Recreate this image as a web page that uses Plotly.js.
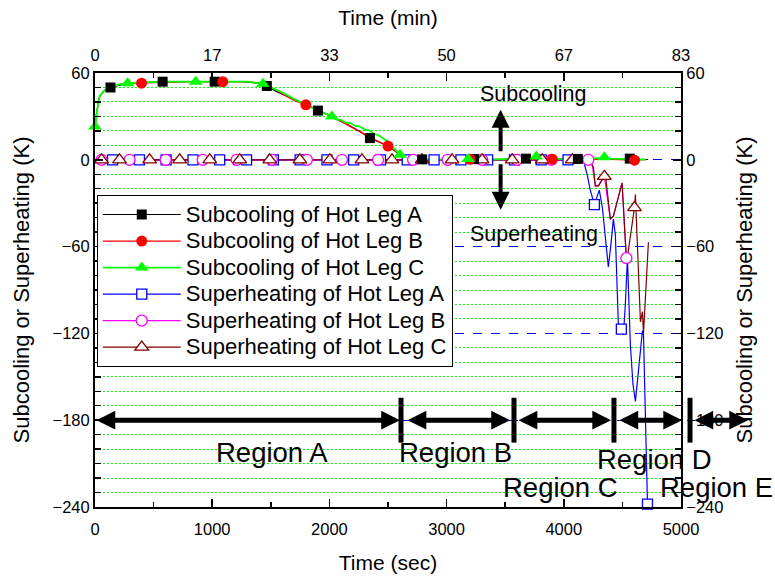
<!DOCTYPE html>
<html><head><meta charset="utf-8">
<script src="https://cdn.plot.ly/plotly-3.0.1.min.js"></script>
<style>html,body{margin:0;padding:0;background:#fff}#chart{width:775px;height:581px}</style>
</head><body><div id="chart"></div>
<script>
const FONT = 'Liberation Sans, Arial, Helvetica, sans-serif';
const T_MAX = 5000;
const Y_MIN = -240, Y_MAX = 60;

// ---- Subcooling of Hot Leg A (line + markers) ----
const subA_t = [0, 15, 40, 80, 132, 200, 300, 450, 577, 800, 1021, 1250, 1400, 1466, 1551, 1662, 1799, 1902, 2021, 2150, 2250, 2346, 2430, 2500, 2560, 2620, 2700, 2791, 3000, 3234, 3450, 3677, 3900, 4120, 4350, 4563, 4650, 4720];
const subA_v = [23, 33, 44, 48, 50, 51.5, 53, 53.5, 54, 54, 54, 54, 53, 51, 47, 43, 38, 34, 30, 24.5, 20, 15, 12, 9.5, 6, 2.5, 0.8, 0.3, 0.2, 0.5, 0.2, 0.8, 0.5, 0.6, 0.3, 0.8, 0.3, 0.2];
const subA_mt = [132, 577, 1021, 1466, 1902, 2346, 2791, 3234, 3677, 4120, 4563];
const subA_mv = [50, 54, 54, 51, 34, 15, 0.3, 0.5, 0.8, 0.6, 0.8];

// ---- Subcooling of Hot Leg B ----
const subB_t = [0, 15, 40, 80, 132, 200, 300, 397, 600, 800, 1090, 1300, 1420, 1500, 1600, 1700, 1799, 1900, 2021, 2150, 2250, 2346, 2430, 2500, 2560, 2620, 2700, 2800, 3000, 3201, 3450, 3700, 3902, 4150, 4400, 4603, 4700];
const subB_v = [23, 33, 44, 48, 50, 52, 53, 53, 53.5, 54, 54, 54, 53, 50.5, 45.5, 41, 38, 34, 30, 24.5, 20, 15.5, 12, 9.5, 6, 2.5, 0.8, 0.3, 0.2, 0.3, 0.4, 0.5, 0.4, 0.5, 0.3, -0.3, 0.1];
const subB_mt = [397, 1090, 1799, 2500, 3201, 3902, 4603];
const subB_mv = [53, 54, 38, 9.5, 0.3, 0.4, -0.3];

// ---- Subcooling of Hot Leg C ----
const subC_t = [0, 15, 40, 80, 132, 200, 278, 450, 600, 859, 1100, 1300, 1432, 1520, 1600, 1700, 1799, 1902, 2021, 2060, 2100, 2140, 2180, 2220, 2260, 2300, 2340, 2380, 2420, 2460, 2500, 2540, 2603, 2660, 2720, 2800, 3000, 3184, 3400, 3600, 3700, 3765, 3830, 4000, 4200, 4300, 4346, 4400, 4550, 4700];
const subC_v = [23, 33, 44, 48, 50, 52, 53, 53.5, 54, 54, 54, 54, 52.5, 49.5, 46.5, 42, 38, 34, 30, 27.8, 27.6, 25.6, 25.4, 23.4, 23, 21, 20.4, 18, 17, 14.5, 12.5, 9, 3.5, 1.5, 0.5, 0.3, 0.2, 0.6, 0.3, 0.5, 1.0, 2.2, 1.0, 0.4, 0.6, 1.2, 1.8, 0.8, 0.4, 0.2];
const subC_mt = [0, 278, 859, 1432, 2021, 2603, 3184, 3765, 4346];
const subC_mv = [23, 53, 54, 52.5, 30, 3.5, 0.6, 2.2, 1.8];

// ---- Superheating of Hot Leg A ----
const supA_t = [0, 1000, 2000, 3000, 4000, 4167, 4201, 4226, 4261, 4303, 4329, 4360, 4380, 4400, 4423, 4440, 4466, 4491, 4509, 4525, 4543, 4568, 4590, 4611, 4632, 4654, 4671, 4680, 4714];
const supA_v = [0, 0, 0, 0, 0, 0, -11, -21, -31, -21, -33, -61, -74, -60, -41, -52, -115, -117, -121, -100, -68, -128, -155, -167, -150, -128, -118, -121, -238];
const supA_mt = [150, 379, 607, 836, 1064, 1293, 1522, 1750, 1979, 2207, 2436, 2664, 2893, 3122, 3350, 3579, 3807, 4036, 4261, 4491, 4714];
const supA_mv = [0, 0, 0, 0, 0, 0, 0, 0, 0, 0, 0, 0, 0, 0, 0, 0, 0, 0, -31, -117, -238];

// ---- Superheating of Hot Leg B ----
const supB_t = [0, 1000, 2000, 3000, 4000, 4209, 4240, 4269, 4295, 4346, 4397, 4423, 4497, 4534];
const supB_v = [0, 0, 0, 0, 0, 0, -2, -18, -18, -11.5, -41, -39, -16, -68];
const supB_mt = [56, 295, 603, 919, 1209, 1509, 1808, 2107, 2415, 2714, 3009, 3304, 3600, 3895, 4209, 4534];
const supB_mv = [0, 0, 0, 0, 0, 0, 0, 0, 0, 0, 0, 0, 0, 0, 0, -68];

// ---- Superheating of Hot Leg C ----
const supC_t = [0, 1000, 2000, 3000, 4000, 4158, 4226, 4252, 4269, 4295, 4346, 4355, 4397, 4423, 4497, 4534, 4545, 4603, 4611, 4654, 4671, 4680, 4722];
const supC_v = [0, 0, 0, 0, 0, -1, -2, -5, -18, -18, -11.5, -10, -41, -39, -16, -69, -66, -33, -24, -112, -105, -120, -57];
const supC_mt = [56, 209, 466, 722, 979, 1235, 1491, 1748, 2004, 2278, 2534, 2791, 3047, 3303, 3560, 3816, 4072, 4346, 4603];
const supC_mv = [0, 0, 0, 0, 0, 0, 0, 0, 0, 0, 0, 0, 0, 0, 0, 0, 0, -11.5, -33];

// ---- Regions (time, s) ----
const regionNames = ['Region A', 'Region B', 'Region C', 'Region D', 'Region E'];
const regionArrowStart = [0, 2654, 3601, 4462, 5102];
const regionArrowEnd = [2602, 3541, 4403, 5009, 5572];
const regionBounds = [2611, 3575, 4428, 5077];
const regionLabelT = [1510, 3072, 3976, 4770, 5299];
const regionLabelV = [-202.5, -202.5, -226.5, -207, -226.5];
const regionArrowV = -180;

// ---- Tick labels ----
const secTicks = [0, 1000, 2000, 3000, 4000, 5000];
const minTicks = secTicks.map(s => s / 60);
const minTickText = ['0', '17', '33', '50', '67', '83'];

const series = [
  {name: 'Subcooling of Hot Leg A', t: subA_t, v: subA_v, mt: subA_mt, mv: subA_mv, color: '#000000', lw: 1.2, sym: 'square', fill: '#000000', size: 10},
  {name: 'Subcooling of Hot Leg B', t: subB_t, v: subB_v, mt: subB_mt, mv: subB_mv, color: '#ff0000', lw: 1.2, sym: 'circle', fill: '#ff0000', size: 11},
  {name: 'Subcooling of Hot Leg C', t: subC_t, v: subC_v, mt: subC_mt, mv: subC_mv, color: '#00ff00', lw: 1.8, sym: 'triangle-up', fill: '#00ff00', size: 12},
  {name: 'Superheating of Hot Leg A', t: supA_t, v: supA_v, mt: supA_mt, mv: supA_mv, color: '#0000ff', lw: 1.2, sym: 'square', fill: '#ffffff', size: 10},
  {name: 'Superheating of Hot Leg B', t: supB_t, v: supB_v, mt: supB_mt, mv: supB_mv, color: '#ff00ff', lw: 1.2, sym: 'circle', fill: '#ffffff', size: 11},
  {name: 'Superheating of Hot Leg C', t: supC_t, v: supC_v, mt: supC_mt, mv: supC_mv, color: '#800000', lw: 1.2, sym: 'triangle-up', fill: '#ffffff', size: 12}
];
const drawOrder = [3, 4, 5, 0, 1, 2];

const traces = [];
drawOrder.forEach(i => {
  const s = series[i];
  traces.push({x: s.t, y: s.v, mode: 'lines', line: {color: s.color, width: s.lw}, showlegend: false, hoverinfo: 'skip'});
});
drawOrder.forEach(i => {
  const s = series[i];
  const open = s.fill === '#ffffff';
  traces.push({x: s.mt, y: s.mv, mode: 'markers', showlegend: false, hoverinfo: 'skip', cliponaxis: false,
    marker: {symbol: s.sym, size: s.size, color: s.fill, line: {color: s.color, width: open ? 1.3 : 0}}});
});
series.forEach(s => {
  const open = s.fill === '#ffffff';
  traces.push({x: [null], y: [null], mode: 'lines+markers', name: '<span style="font-size:22px">' + s.name + '</span>',
    line: {color: s.color, width: s.lw},
    marker: {symbol: s.sym, size: s.size, color: s.fill, line: {color: s.color, width: open ? 1.3 : 0}}});
});
// helpers for secondary axes
traces.push({x: [null], y: [null], xaxis: 'x2', yaxis: 'y', showlegend: false, hoverinfo: 'skip', mode: 'markers'});
traces.push({x: [null], y: [null], xaxis: 'x', yaxis: 'y2', showlegend: false, hoverinfo: 'skip', mode: 'markers'});

const M = {l: 95, r: 94, t: 73, b: 74};
const W = 775, H = 581;
const plotW = W - M.l - M.r;
const pxPerSec = plotW / T_MAX;
const yPaper = v => (v - Y_MIN) / (Y_MAX - Y_MIN);

const shapes = regionBounds.map(t => ({type: 'line', xref: 'paper', yref: 'paper',
  x0: t / T_MAX, x1: t / T_MAX, y0: yPaper(-195.5), y1: yPaper(-164.5), line: {color: '#000', width: 5}}));

const annotations = [];
regionNames.forEach((n, i) => {
  annotations.push({xref: 'paper', yref: 'paper', x: regionArrowEnd[i] / T_MAX, y: yPaper(regionArrowV),
    ax: -(regionArrowEnd[i] - regionArrowStart[i]) * pxPerSec, ay: 0, axref: 'pixel', ayref: 'pixel',
    text: '', showarrow: true, arrowhead: 2, startarrowhead: 2, arrowside: 'end+start', arrowsize: 0.75, startarrowsize: 0.75,
    arrowwidth: 5, arrowcolor: '#000', standoff: 0, startstandoff: 0});
  annotations.push({xref: 'paper', yref: 'paper', x: regionLabelT[i] / T_MAX, y: yPaper(regionLabelV[i]),
    text: n, showarrow: false, xanchor: 'center', yanchor: 'middle', font: {family: FONT, size: 27.5, color: '#000'}});
});
const scArrowT = 3461;
annotations.push({xref: 'x', yref: 'y', axref: 'x', ayref: 'y', x: scArrowT, y: 34.6, ax: scArrowT, ay: 4.8, text: '',
  showarrow: true, arrowhead: 2, arrowsize: 0.9, arrowwidth: 4, arrowcolor: '#000', standoff: 0});
annotations.push({xref: 'x', yref: 'y', axref: 'x', ayref: 'y', x: scArrowT, y: -34.6, ax: scArrowT, ay: -2, text: '',
  showarrow: true, arrowhead: 2, arrowsize: 0.9, arrowwidth: 4, arrowcolor: '#000', standoff: 0});
annotations.push({xref: 'x', yref: 'y', x: 3741, y: 45.6, text: 'Subcooling', showarrow: false,
  font: {family: FONT, size: 21.5, color: '#000'}});
annotations.push({xref: 'x', yref: 'y', x: 3746, y: -51, text: 'Superheating', showarrow: false,
  font: {family: FONT, size: 21.5, color: '#000'}});

const axCommon = {showline: true, linewidth: 2, linecolor: '#000', zeroline: false, ticks: 'inside', ticklen: 8, tickwidth: 1.5, tickcolor: '#000',
  tickfont: {family: FONT, size: 16.5, color: '#000'}, automargin: false};
const titleFont = {family: FONT, size: 21, color: '#000'};
const yTitleFont = {family: FONT, size: 22, color: '#000'};

const layout = {
  width: W, height: H, margin: M,
  paper_bgcolor: '#fff', plot_bgcolor: '#fff',
  font: {family: FONT, size: 16.5, color: '#000'},
  showlegend: true,
  legend: {x: 0.003, y: yPaper(-24.5), xanchor: 'left', yanchor: 'top', bgcolor: '#fff', bordercolor: '#000', borderwidth: 1,
    font: {family: FONT, size: 18.1, color: '#000'}, itemwidth: 78, traceorder: 'normal'},
  xaxis: Object.assign({}, axCommon, {range: [0, T_MAX], tickmode: 'array', tickvals: secTicks, showgrid: false, ticklabelstandoff: 6,
    minor: {dtick: 500, tick0: 0, ticks: 'inside', ticklen: 5, tickwidth: 1.5, tickcolor: '#000', showgrid: false},
    title: {text: 'Time (sec)', font: titleFont, standoff: 19}}),
  xaxis2: Object.assign({}, axCommon, {overlaying: 'x', side: 'top', anchor: 'y', range: [0, T_MAX / 60], tickmode: 'array',
    tickvals: minTicks, ticktext: minTickText, showgrid: false, ticklabelstandoff: 3,
    minor: {dtick: 500 / 60, tick0: 0, ticks: 'inside', ticklen: 5, tickwidth: 1.5, tickcolor: '#000', showgrid: false},
    title: {text: 'Time (min)', font: titleFont, standoff: 15}}),
  yaxis: Object.assign({}, axCommon, {range: [Y_MIN, Y_MAX], tick0: Y_MIN, dtick: 60, showgrid: true, gridcolor: '#0000ff', griddash: 'dash', gridwidth: 1,
    minor: {dtick: 10, tick0: 0, ticks: 'inside', ticklen: 6, tickwidth: 1.5, tickcolor: '#000', showgrid: true, gridcolor: '#00ff00', griddash: '2px,2px', gridwidth: 1},
    title: {text: 'Subcooling or Superheating (K)', font: yTitleFont, standoff: 17}}),
  yaxis2: Object.assign({}, axCommon, {overlaying: 'y', side: 'right', anchor: 'x', range: [Y_MIN, Y_MAX], tick0: Y_MIN, dtick: 60, showgrid: false,
    minor: {dtick: 10, tick0: 0, ticks: 'inside', ticklen: 6, tickwidth: 1.5, tickcolor: '#000', showgrid: false},
    title: {text: 'Subcooling or Superheating (K)', font: yTitleFont, standoff: 14}}),
  shapes: shapes,
  annotations: annotations
};

Plotly.newPlot('chart', traces, layout, {displayModeBar: false, staticPlot: true});
</script></body></html>
